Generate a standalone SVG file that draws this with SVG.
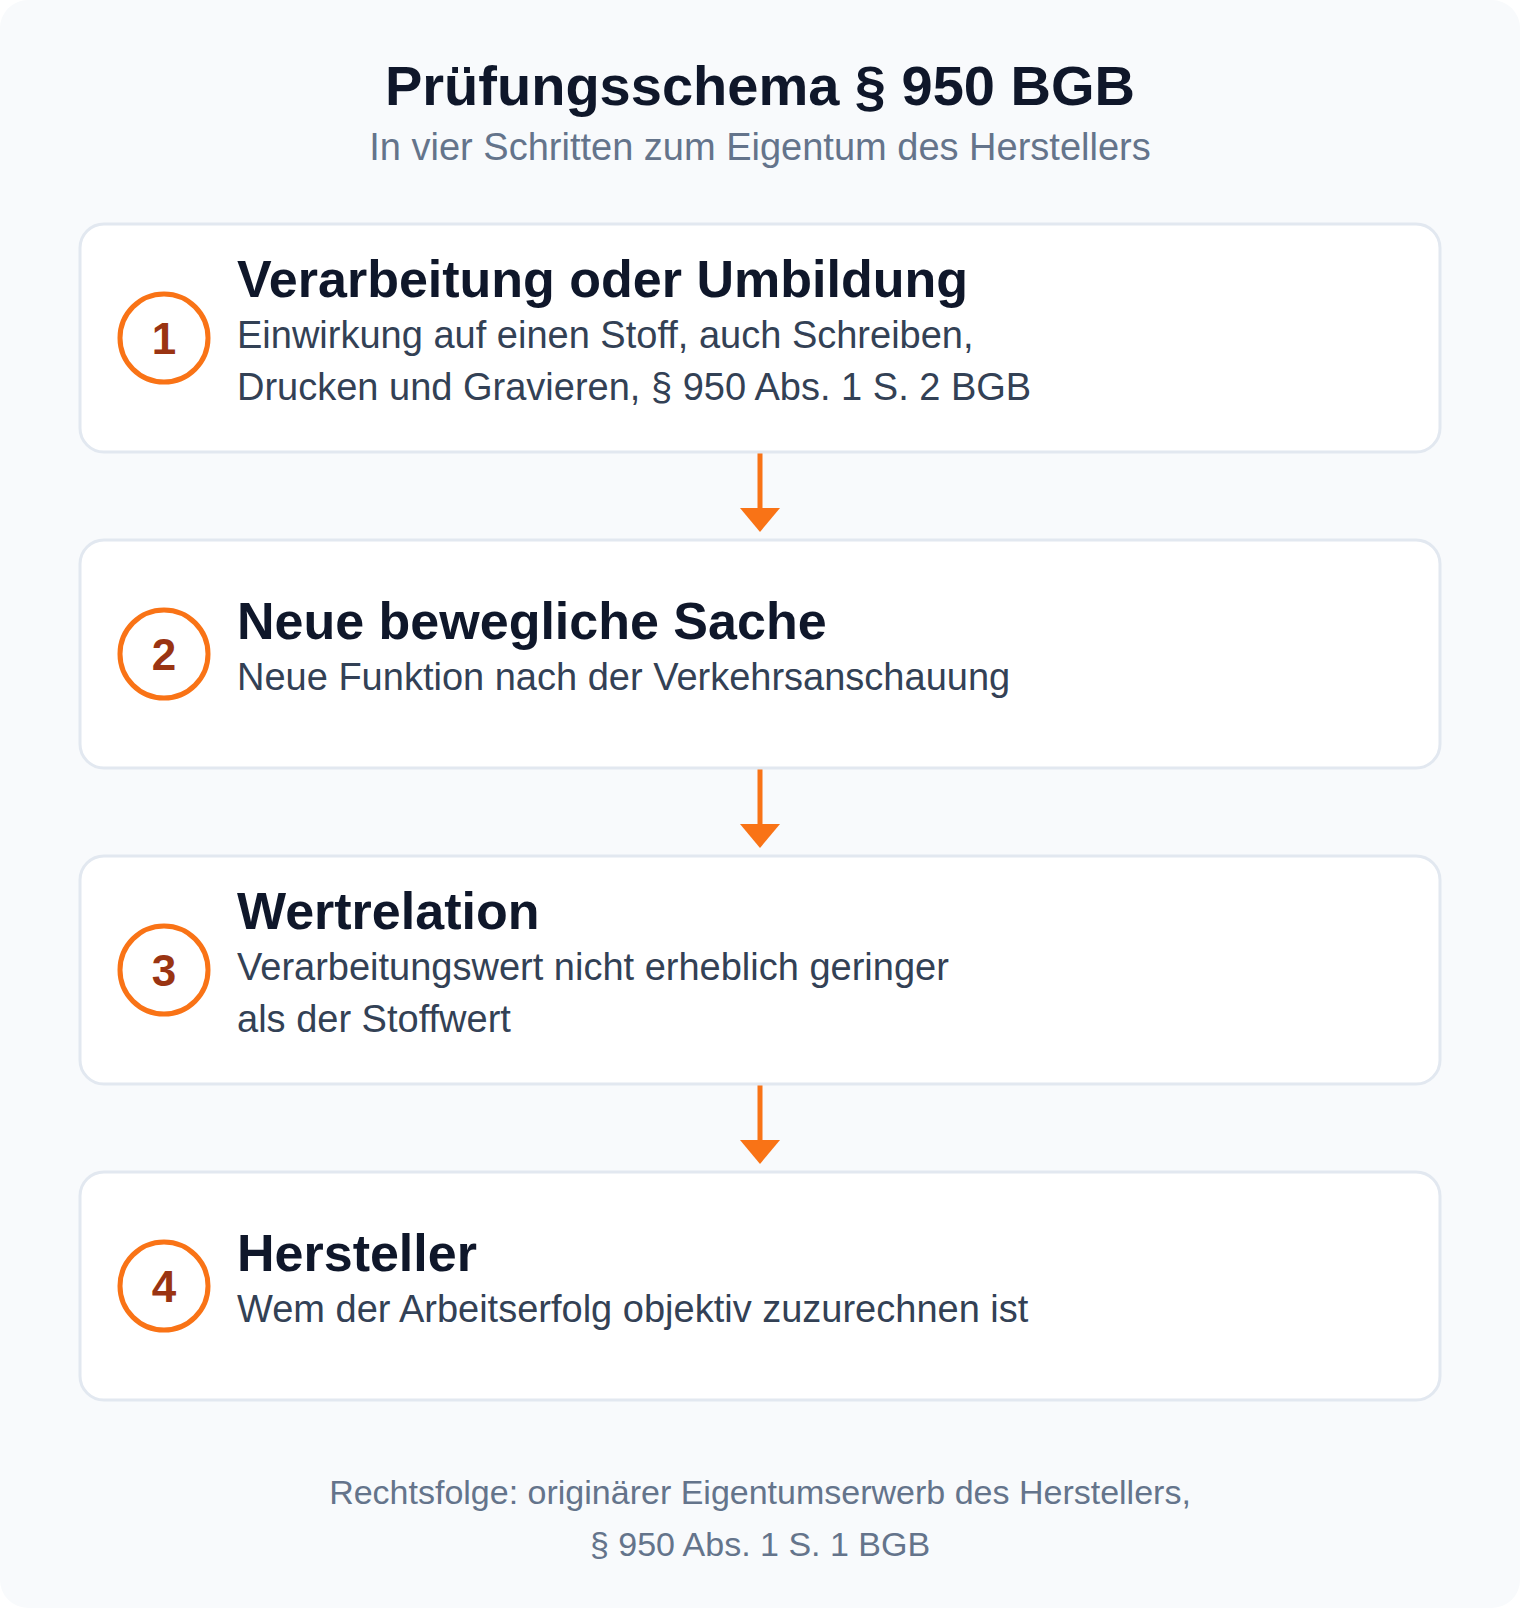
<svg xmlns="http://www.w3.org/2000/svg" width="1520" height="1608" viewBox="0 0 1520 1608">
<style>
text{font-family:"Liberation Sans",Arial,sans-serif}
.h1{font-size:56px;font-weight:700;fill:#0f172a}
.sub{font-size:38px;fill:#64748b}
.card{fill:#ffffff;stroke:#e2e8f0;stroke-width:3}
.ring{fill:#ffffff;stroke:#f97316;stroke-width:5}
.num{font-size:44px;font-weight:700;fill:#9a3412}
.t{font-size:52px;font-weight:700;fill:#0f172a}
.d{font-size:38px;fill:#334155}
.foot{font-size:34px;fill:#64748b}
.ln{stroke:#f97316;stroke-width:5}
.hd{fill:#f97316}
</style>
<rect x="0" y="0" width="1520" height="1608" rx="28" fill="#f8fafc"/>
<g id="header">
<text class="h1" x="760" y="105" text-anchor="middle">Prüfungsschema § 950 BGB</text>
<text class="sub" x="760" y="160" text-anchor="middle">In vier Schritten zum Eigentum des Herstellers</text>
</g>
<g id="connectors">
<line class="ln" x1="760" y1="452" x2="760" y2="510"/>
<polygon class="hd" points="740,508 780,508 760,532"/>
<line class="ln" x1="760" y1="768" x2="760" y2="826"/>
<polygon class="hd" points="740,824 780,824 760,848"/>
<line class="ln" x1="760" y1="1084" x2="760" y2="1142"/>
<polygon class="hd" points="740,1140 780,1140 760,1164"/>
</g>
<g id="step1">
<rect class="card" x="80" y="224" width="1360" height="228" rx="24"/>
<circle class="ring" cx="164" cy="338" r="44"/>
<text class="num" x="164" y="354" text-anchor="middle">1</text>
<text class="t" x="237" y="297">Verarbeitung oder Umbildung</text>
<text class="d" x="237" y="348">Einwirkung auf einen Stoff, auch Schreiben,</text>
<text class="d" x="237" y="400">Drucken und Gravieren, § 950 Abs. 1 S. 2 BGB</text>
</g>
<g id="step2">
<rect class="card" x="80" y="540" width="1360" height="228" rx="24"/>
<circle class="ring" cx="164" cy="654" r="44"/>
<text class="num" x="164" y="670" text-anchor="middle">2</text>
<text class="t" x="237" y="639">Neue bewegliche Sache</text>
<text class="d" x="237" y="690">Neue Funktion nach der Verkehrsanschauung</text>
</g>
<g id="step3">
<rect class="card" x="80" y="856" width="1360" height="228" rx="24"/>
<circle class="ring" cx="164" cy="970" r="44"/>
<text class="num" x="164" y="986" text-anchor="middle">3</text>
<text class="t" x="237" y="929">Wertrelation</text>
<text class="d" x="237" y="980">Verarbeitungswert nicht erheblich geringer</text>
<text class="d" x="237" y="1032">als der Stoffwert</text>
</g>
<g id="step4">
<rect class="card" x="80" y="1172" width="1360" height="228" rx="24"/>
<circle class="ring" cx="164" cy="1286" r="44"/>
<text class="num" x="164" y="1302" text-anchor="middle">4</text>
<text class="t" x="237" y="1271">Hersteller</text>
<text class="d" x="237" y="1322">Wem der Arbeitserfolg objektiv zuzurechnen ist</text>
</g>
<g id="footer">
<text class="foot" x="760" y="1504" text-anchor="middle">Rechtsfolge: originärer Eigentumserwerb des Herstellers,</text>
<text class="foot" x="760" y="1556" text-anchor="middle">§ 950 Abs. 1 S. 1 BGB</text>
</g>
</svg>
